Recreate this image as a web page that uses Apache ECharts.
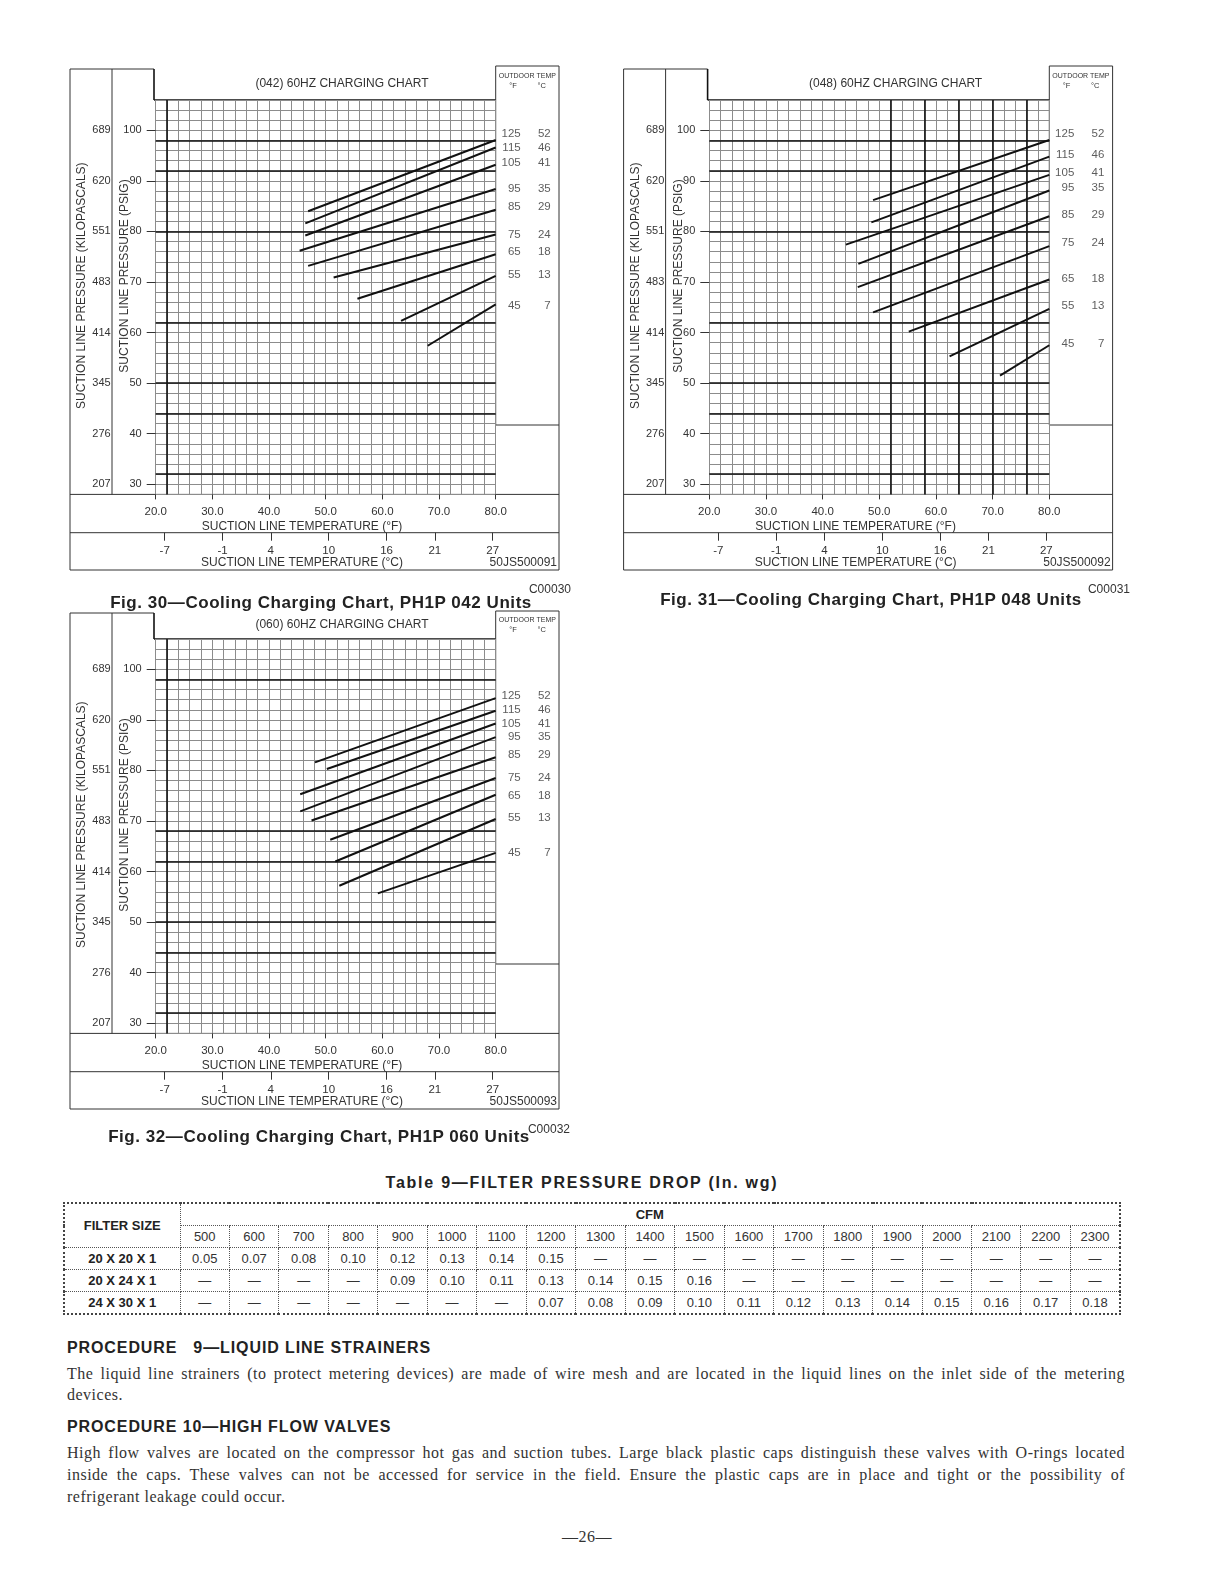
<!DOCTYPE html>
<html>
<head>
<meta charset="utf-8">
<script src="https://cdn.jsdelivr.net/npm/echarts@6/dist/echarts.min.js"></script>
<style>
  body { margin: 0; background: #fff; width: 1213px; height: 1575px; position: relative; overflow: hidden;
         font-family: "Liberation Sans", Arial, sans-serif; color: #222; }
  #main { position: absolute; left: 0; top: 0; width: 1213px; height: 1160px; }
  .cap { position: absolute; font-weight: bold; font-size: 17px; letter-spacing: 0.55px; white-space: nowrap;
         transform: translate(-50%, -50%); color: #222; }
  .code { position: absolute; font-size: 12px; color: #333; transform: translate(-100%, -50%); }
  #tbl { position: absolute; left: 63px; top: 1202px; width: 1058px; border-collapse: collapse; table-layout: fixed;
         font-size: 13px; color: #333; border: 2px dotted #444; }
  #tbl td { border: 1px dotted #555; height: 21px; padding: 0; text-align: center; white-space: nowrap; }
  #tbl td.fs { font-weight: bold; color: #222; }
  .head { position: absolute; left: 67px; font-weight: bold; font-size: 16px; color: #222; letter-spacing: 0.9px;
          transform: translateY(-50%); white-space: nowrap; }
  .ln { position: absolute; left: 67px; width: 1058px; font-family: "Liberation Serif", "Times New Roman", serif;
        font-size: 16px; line-height: 20px; color: #333; white-space: nowrap; letter-spacing: 0.5px; }
  .ln.j { text-align: justify; text-align-last: justify; white-space: normal; }
</style>
</head>
<body>
<div id="main"></div>

<div class="cap" style="left:321px;top:603px">Fig. 30—Cooling Charging Chart, PH1P 042 Units</div>
<div class="code" style="left:571px;top:589px">C00030</div>
<div class="cap" style="left:871px;top:600px">Fig. 31—Cooling Charging Chart, PH1P 048 Units</div>
<div class="code" style="left:1130px;top:589px">C00031</div>
<div class="cap" style="left:319px;top:1137px">Fig. 32—Cooling Charging Chart, PH1P 060 Units</div>
<div class="code" style="left:570px;top:1129px">C00032</div>

<div class="cap" style="left:582px;top:1183px;font-size:16px;letter-spacing:1.75px">Table 9—FILTER PRESSURE DROP (In. wg)</div>
<table id="tbl"></table>

<div class="head" style="top:1348px">PROCEDURE&nbsp;&nbsp; 9—LIQUID LINE STRAINERS</div>
<div class="ln j" style="top:1364px">The liquid line strainers (to protect metering devices) are made of wire mesh and are located in the liquid lines on the inlet side of the metering</div>
<div class="ln" style="top:1385px">devices.</div>
<div class="head" style="top:1427px">PROCEDURE 10—HIGH FLOW VALVES</div>
<div class="ln j" style="top:1443px">High flow valves are located on the compressor hot gas and suction tubes. Large black plastic caps distinguish these valves with O-rings located</div>
<div class="ln j" style="top:1465px">inside the caps. These valves can not be accessed for service in the field. Ensure the plastic caps are in place and tight or the possibility of</div>
<div class="ln" style="top:1487px">refrigerant leakage could occur.</div>
<div class="ln" style="top:1527px;left:547px;width:80px;text-align:center">—26—</div>

<script>
// outdoor temperature curves (same for all three charts)
const outdoorF = [125, 115, 105, 95, 85, 75, 65, 55, 45];
const outdoorC = [52, 46, 41, 35, 29, 24, 18, 13, 7];

// axis tick labels
const fTicks = [20, 30, 40, 50, 60, 70, 80];
const cTicks = [-7, -1, 4, 10, 16, 21, 27];
const psiTicks = [30, 40, 50, 60, 70, 80, 90, 100];
const kpaTicks = [207, 276, 345, 414, 483, 551, 620, 689];

// (042) chart: each curve runs from (startF, startPsi) to (80 F, endPsi)
const c042StartF = [46.9, 46.4, 46.4, 45.4, 46.9, 51.4, 55.6, 63.3, 68.0];
const c042StartPsi = [84.0, 81.6, 79.2, 76.2, 73.2, 70.9, 66.7, 62.3, 57.4];
const c042EndPsi = [98.1, 96.6, 93.2, 88.4, 84.3, 79.4, 75.5, 71.2, 65.6];
const c042LabelPsi = [99.3, 96.6, 93.6, 88.5, 84.9, 79.3, 75.9, 71.4, 65.3];
const c042BoldPsi = [98, 92, 80, 62, 50, 44, 32];
const c042BoldF = [22];

// (048) chart
const c048StartF = [48.9, 48.6, 44.1, 46.3, 46.2, 48.9, 55.2, 62.4, 71.3];
const c048StartPsi = [86.2, 81.8, 77.4, 73.6, 69.0, 64.0, 60.2, 55.3, 51.5];
const c048EndPsi = [98.1, 94.8, 91.2, 88.1, 83.0, 77.1, 70.5, 64.7, 57.5];
const c048LabelPsi = [99.3, 95.1, 91.6, 88.7, 83.2, 77.8, 70.6, 65.2, 57.8];
const c048BoldPsi = [98, 92, 80, 62, 50, 44, 32];
const c048BoldF = [52, 58, 64, 70, 76];

// (060) chart
const c060StartF = [48.1, 50.2, 45.5, 45.5, 47.5, 50.8, 51.7, 52.4, 59.2];
const c060StartPsi = [81.6, 80.3, 75.3, 71.9, 70.1, 66.3, 62.0, 57.2, 55.7];
const c060EndPsi = [94.3, 91.8, 89.3, 86.6, 82.6, 78.5, 75.2, 70.4, 63.7];
const c060LabelPsi = [94.8, 92.0, 89.2, 86.6, 83.0, 78.5, 75.0, 70.6, 63.7];
const c060BoldPsi = [98, 68, 62, 50, 44, 32];
const c060BoldF = [22];

// filter pressure drop table
const cfm = [500, 600, 700, 800, 900, 1000, 1100, 1200, 1300, 1400, 1500, 1600, 1700, 1800, 1900, 2000, 2100, 2200, 2300];
const filterSizes = ['20 X 20 X 1', '20 X 24 X 1', '24 X 30 X 1'];
const drop20x20 = [0.05, 0.07, 0.08, 0.10, 0.12, 0.13, 0.14, 0.15, null, null, null, null, null, null, null, null, null, null, null];
const drop20x24 = [null, null, null, null, 0.09, 0.10, 0.11, 0.13, 0.14, 0.15, 0.16, null, null, null, null, null, null, null, null];
const drop24x30 = [null, null, null, null, null, null, null, 0.07, 0.08, 0.09, 0.10, 0.11, 0.12, 0.13, 0.14, 0.15, 0.16, 0.17, 0.18];

const charts = [
    { dx: 0, dy: 0, top: 69, outTop: 66, title: '(042) 60HZ CHARGING CHART', code: '50JS500091',
      startF: c042StartF, startPsi: c042StartPsi, endPsi: c042EndPsi, labelPsi: c042LabelPsi, boldPsi: c042BoldPsi, boldF: c042BoldF },
    { dx: 553.6, dy: 0, top: 69, outTop: 66, title: '(048) 60HZ CHARGING CHART', code: '50JS500092',
      startF: c048StartF, startPsi: c048StartPsi, endPsi: c048EndPsi, labelPsi: c048LabelPsi, boldPsi: c048BoldPsi, boldF: c048BoldF },
    { dx: 0, dy: 539, top: 613, outTop: 611, title: '(060) 60HZ CHARGING CHART', code: '50JS500093',
      startF: c060StartF, startPsi: c060StartPsi, endPsi: c060EndPsi, labelPsi: c060LabelPsi, boldPsi: c060BoldPsi, boldF: c060BoldF }
];

const grids = [], xAxes = [], yAxes = [], series = [], graphics = [];
const FONT = 'Liberation Sans';

const seg = (x1, y1, x2, y2, w, col) => graphics.push({
    type: 'line', silent: true, shape: { x1, y1, x2, y2 },
    style: { stroke: col || '#333', lineWidth: w || 1 }
});
const txt = (x, y, text, size, align, rot) => graphics.push({
    type: 'text', silent: true, x, y, rotation: rot || 0,
    style: { text, fontSize: size, fontFamily: FONT, fill: '#333',
             textAlign: align || 'center', align: align || 'center', textVerticalAlign: 'middle', verticalAlign: 'middle' }
});

charts.forEach((c, i) => {
    const gl = 155.7 + c.dx, gt = 100 + c.dy, gw = 340, gh = 394.4;
    const gr = gl + gw, gb = gt + gh;
    grids.push({ left: gl, top: gt, width: gw, height: gh });

    const axisText = { fontSize: 11.5, color: '#333', fontFamily: FONT };
    xAxes.push(
        { gridIndex: i, type: 'value', min: 20, max: 80, interval: 2, position: 'bottom',
          axisLine: { show: false }, axisTick: { show: false }, axisLabel: { show: false },
          splitLine: { show: true, lineStyle: { color: '#8c8c8c', width: 1 } } },
        { gridIndex: i, type: 'value', min: 20, max: 80, interval: 10, position: 'bottom',
          axisLine: { show: false }, axisTick: { show: true, length: 5, lineStyle: { color: '#333' } },
          axisLabel: Object.assign({ margin: 11, formatter: v => v.toFixed(1) }, axisText),
          splitLine: { show: false } },
        { gridIndex: i, type: 'value', min: -7.93, max: 27.31, position: 'bottom', offset: 38.3,
          axisLine: { show: false },
          axisTick: { show: true, length: 8, customValues: cTicks, lineStyle: { color: '#333' } },
          axisLabel: Object.assign({ margin: 12, customValues: cTicks }, axisText),
          splitLine: { show: false } }
    );
    yAxes.push(
        { gridIndex: i, type: 'value', min: 28, max: 106, interval: 2,
          axisLine: { show: false }, axisTick: { show: false }, axisLabel: { show: false },
          splitLine: { show: true, lineStyle: { color: '#8c8c8c', width: 1 } } },
        { gridIndex: i, type: 'value', min: 28, max: 106, position: 'left',
          axisLine: { show: false },
          axisTick: { show: true, length: 9, customValues: psiTicks, lineStyle: { color: '#333' } },
          axisLabel: { margin: 14, customValues: psiTicks, fontSize: 11, color: '#333', fontFamily: FONT },
          splitLine: { show: false } },
        { gridIndex: i, type: 'value', min: 28, max: 106, position: 'left',
          axisLine: { show: false }, axisTick: { show: false },
          axisLabel: { margin: 45, customValues: psiTicks, fontSize: 11, color: '#333', fontFamily: FONT,
                       formatter: v => String(kpaTicks[psiTicks.indexOf(v)]) },
          splitLine: { show: false } }
    );

    const xi = i * 3, yi = i * 3;
    c.startF.forEach((f, j) => {
        const s = {
            type: 'line', xAxisIndex: xi, yAxisIndex: yi, symbol: 'none', silent: true,
            data: [[f, c.startPsi[j]], [80, c.endPsi[j]]],
            lineStyle: { color: '#111', width: 2 }
        };
        if (j === 0) {
            s.markLine = {
                silent: true, symbol: ['none', 'none'], label: { show: false },
                lineStyle: { color: '#111', width: 1.6, type: 'solid' },
                data: c.boldPsi.map(v => ({ yAxis: v })).concat(c.boldF.map(v => ({ xAxis: v })))
            };
        }
        series.push(s);
    });
    series.push({
        type: 'scatter', xAxisIndex: xi, yAxisIndex: yi, symbolSize: 0, clip: false, silent: true,
        data: c.labelPsi.map(p => [80, p]),
        label: {
            show: true, position: 'right', distance: 0,
            formatter: p => '{f|' + outdoorF[p.dataIndex] + '}{c|' + outdoorC[p.dataIndex] + '}',
            rich: {
                f: { width: 25, align: 'right', fontSize: 11.5, color: '#333', fontFamily: FONT },
                c: { width: 30, align: 'right', fontSize: 11.5, color: '#333', fontFamily: FONT }
            }
        }
    });

    // frame of the chart panel
    const L = 70 + c.dx, R = 559 + c.dx, dy = c.dy, tl = 154 + c.dx;
    seg(L, c.top, tl, c.top);
    seg(L, c.top, L, 570 + dy);
    seg(R, c.outTop, R, 570 + dy);
    seg(L, 570 + dy, R, 570 + dy);
    seg(L, gb, R, gb);
    seg(L, 532.7 + dy, R, 532.7 + dy);
    seg(112 + c.dx, c.top, 112 + c.dx, gb);
    seg(tl, c.top, tl, gt, 1.6, '#111');
    seg(tl, gt, gr, gt, 1.6, '#111');
    seg(gr, c.outTop, R, c.outTop);
    seg(gr, c.outTop, gr, 425 + dy);
    seg(gr, 425 + dy, R, 425 + dy);

    txt(342 + c.dx, (c.top + gt) / 2 - 1, c.title, 12);
    txt((gr + R) / 2, c.top + 7, 'OUTDOOR TEMP', 7);
    txt(513 + c.dx, c.top + 17, '°F', 7.5);
    txt(541.7 + c.dx, c.top + 17, '°C', 7.5);
    txt(81.7 + c.dx, 285.7 + dy, 'SUCTION LINE PRESSURE (KILOPASCALS)', 12, 'center', Math.PI / 2);
    txt(125 + c.dx, 276 + dy, 'SUCTION LINE PRESSURE (PSIG)', 12, 'center', Math.PI / 2);
    txt(302 + c.dx, 526.7 + dy, 'SUCTION LINE TEMPERATURE (°F)', 12);
    txt(302 + c.dx, 562.7 + dy, 'SUCTION LINE TEMPERATURE (°C)', 12);
    txt(557 + c.dx, 562.7 + dy, c.code, 12, 'right');
});

const myChart = echarts.init(document.getElementById('main'));
myChart.setOption({
    animation: false,
    textStyle: { fontFamily: FONT },
    grid: grids,
    xAxis: xAxes,
    yAxis: yAxes,
    series: series,
    graphic: { elements: graphics }
});

// table
const rows = [drop20x20, drop20x24, drop24x30];
let html = '<colgroup><col style="width:116px">' + cfm.map(() => '<col>').join('') + '</colgroup>';
html += '<tr><td class="fs" rowspan="2">FILTER SIZE</td>' +
        '<td class="fs" colspan="' + cfm.length + '">CFM</td></tr>';
html += '<tr>' + cfm.map(v => '<td>' + v + '</td>').join('') + '</tr>';
rows.forEach((r, i) => {
    html += '<tr><td class="fs">' + filterSizes[i] + '</td>' +
            r.map(v => '<td>' + (v === null ? '—' : v.toFixed(2)) + '</td>').join('') + '</tr>';
});
document.getElementById('tbl').innerHTML = html;
</script>
</body>
</html>
